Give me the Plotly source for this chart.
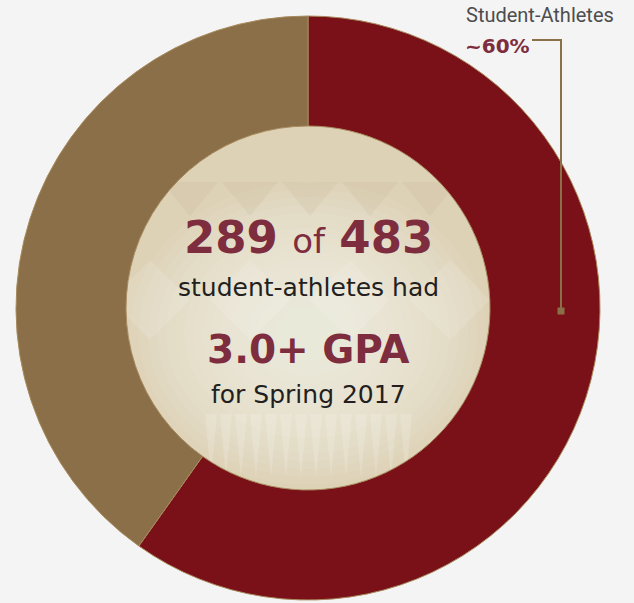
import plotly.graph_objects as go

labels = ["Student-Athletes with 3.0+ GPA", "Other Student-Athletes"]
values = [289, 194]
colors = ["#7a1118", "#8a6f48"]

W, H = 634, 603
cx, cy, R, r_in = 308, 308, 292, 182

fig = go.Figure()

fig.add_trace(go.Pie(
    labels=labels, values=values, sort=False, direction="clockwise", rotation=0,
    hole=r_in / R, textinfo="none", hoverinfo="label+value+percent",
    marker=dict(colors=colors, line=dict(color="#a88a5c", width=1)),
    domain=dict(x=[(cx - R) / W, (cx + R) / W], y=[(H - cy - R) / H, (H - cy + R) / H]),
    showlegend=False,
))

fig.update_xaxes(range=[0, W], visible=False, fixedrange=True)
fig.update_yaxes(range=[H, 0], visible=False, fixedrange=True)

shapes = []
# inner beige disc with soft lighter centre
shapes.append(dict(type="circle", xref="x", yref="y", x0=cx - r_in, x1=cx + r_in,
                   y0=cy - r_in, y1=cy + r_in, fillcolor="#ddd1b6", line=dict(width=0), layer="below"))
n = 18
for k in range(n):
    f = 0.98 - k * (0.9 / n)
    shapes.append(dict(type="circle", xref="x", yref="y",
                       x0=cx - r_in * f, x1=cx + r_in * f,
                       y0=cy + 25 - r_in * f * 0.85, y1=cy + 25 + r_in * f * 0.85,
                       fillcolor="#f6f2e9", line=dict(width=0), opacity=0.085, layer="below"))
# faint decorative pattern in the disc
for x0 in [190, 250, 310, 370, 430]:
    shapes.append(dict(type="path", xref="x", yref="y",
                       path=f"M {x0-28},182 L {x0},216 L {x0+28},182 Z",
                       fillcolor="rgba(196,180,145,0.18)", line=dict(width=0), layer="below"))
for x0 in [150, 250, 350, 450]:
    shapes.append(dict(type="path", xref="x", yref="y",
                       path=f"M {x0-40},300 L {x0},260 L {x0+40},300 L {x0},340 Z",
                       fillcolor="rgba(255,255,255,0.12)", line=dict(width=0), layer="below"))
for i in range(14):
    x0 = 205 + i * 15
    shapes.append(dict(type="path", xref="x", yref="y",
                       path=f"M {x0},414 L {x0+12},414 L {x0+6},478 Z",
                       fillcolor="rgba(255,255,255,0.16)", line=dict(width=0), layer="below"))
# leader line
shapes.append(dict(type="path", xref="x", yref="y", path="M 532,40 L 561,40 L 561,311",
                   line=dict(color="#8a6f48", width=2), layer="above"))
shapes.append(dict(type="rect", xref="x", yref="y", x0=557.5, x1=564.5, y0=307.5, y1=314.5,
                   fillcolor="#8a6f48", line=dict(width=0), layer="above"))
fig.update_layout(shapes=shapes)

maroon = "#7e2d3e"
dark = "#231f20"
ann = [
    dict(x=cx, y=237, text="<b>289</b> <span style='font-size:34px'>of</span> <b>483</b>",
         font=dict(family="DejaVu Sans", size=45, color=maroon)),
    dict(x=cx, y=287, text="student-athletes had", font=dict(family="DejaVu Sans", size=25, color=dark)),
    dict(x=cx, y=349, text="<b>3.0+ GPA</b>", font=dict(family="DejaVu Sans", size=39, color=maroon)),
    dict(x=cx, y=394, text="for Spring 2017", font=dict(family="DejaVu Sans", size=25, color=dark)),
    dict(x=464, y=15, text="Student-Athletes", xanchor="left", font=dict(family="Roboto", size=20, color="#4d4d4f")),
    dict(x=463, y=46, text="<b>~60%</b>", xanchor="left", font=dict(family="DejaVu Sans", size=20, color=maroon)),
]
for a in ann:
    a.update(xref="x", yref="y", showarrow=False, yanchor="middle",
             xanchor=a.get("xanchor", "center"))
fig.update_layout(annotations=ann)

fig.update_layout(
    width=W, height=H, margin=dict(l=0, r=0, t=0, b=0),
    paper_bgcolor="#f4f4f4", plot_bgcolor="rgba(0,0,0,0)",
    xaxis=dict(domain=[0, 1]), yaxis=dict(domain=[0, 1]),
)

fig.write_html("out.html", config={"displayModeBar": False},
               post_script="document.body.style.margin='0';")
